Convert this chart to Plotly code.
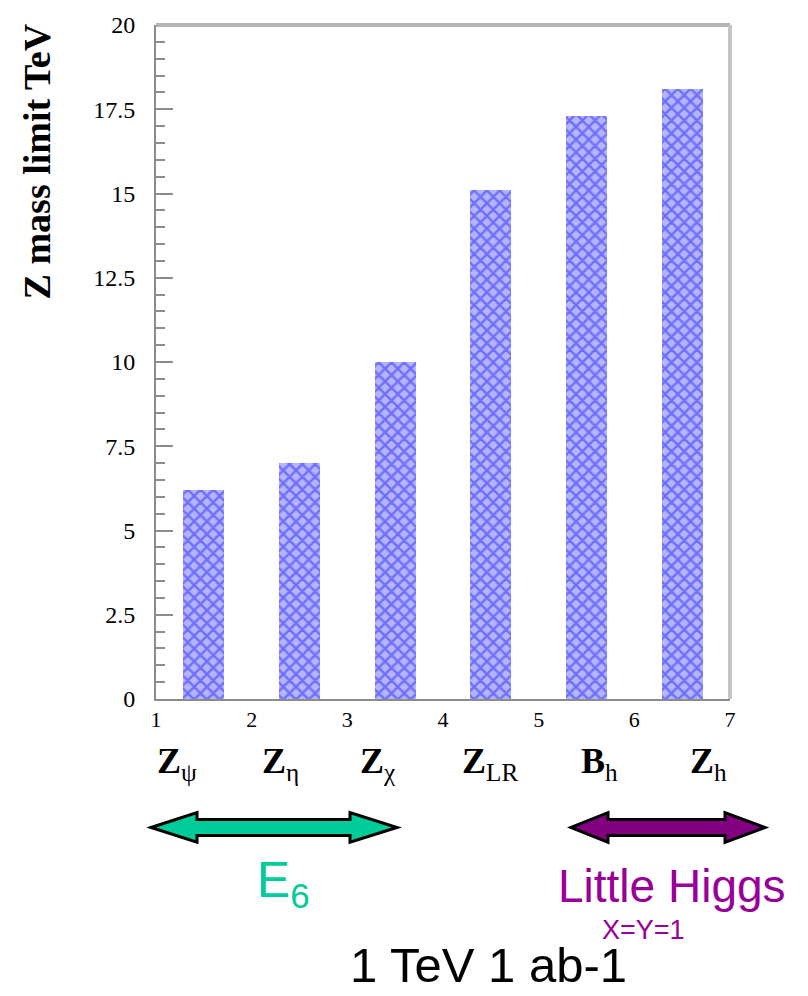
import plotly.graph_objects as go

# Z' discovery mass limits at a 1 TeV collider with 1 ab^-1
models = ["Z<sub>ψ</sub>", "Z<sub>η</sub>", "Z<sub>χ</sub>", "Z<sub>LR</sub>", "B<sub>h</sub>", "Z<sub>h</sub>"]
mass_limit_tev = [6.2, 7.0, 10.0, 15.1, 17.3, 18.1]
y_tick_values = [0, 2.5, 5, 7.5, 10, 12.5, 15, 17.5, 20]
y_tick_labels = ["0", "2.5", "5", "7.5", "10", "12.5", "15", "17.5", "20"]
x_tick_values = [1, 2, 3, 4, 5, 6, 7]

# bars sit half-way between the integer ticks
bar_x = [i + 1.5 for i in range(len(models))]

# page / plot-area geometry (pixels)
W, H = 808, 996
L, R, T, B = 156, 730, 17, 699


def px(x):
    return (x - L) / (R - L)


def py(y):
    return (B - y) / (B - T)


def double_arrow(x0, x1, xb0, xb1, yc, head, shaft):
    pts = [
        (x0, yc), (xb0, yc - head), (xb0, yc - shaft), (xb1, yc - shaft),
        (xb1, yc - head), (x1, yc), (xb1, yc + head), (xb1, yc + shaft),
        (xb0, yc + shaft), (xb0, yc + head),
    ]
    return "M " + " L ".join(f"{px(a):.5f},{py(b):.5f}" for a, b in pts) + " Z"


fig = go.Figure()
fig.add_trace(go.Bar(
    x=bar_x,
    y=mass_limit_tev,
    width=0.43,
    marker=dict(
        color="#aaaaff",
        line=dict(width=0),
        pattern=dict(shape="x", fgcolor="#2828ff", bgcolor="#b4b4ff", size=9, solidity=0.45),
    ),
    hoverinfo="skip",
))

serif = "Liberation Serif, Times New Roman, serif"
sans = "Liberation Sans, Arial, sans-serif"

fig.update_layout(
    width=W, height=H,
    margin=dict(l=L, r=W - R, t=T, b=H - B, pad=0),
    paper_bgcolor="white", plot_bgcolor="white",
    showlegend=False,
    bargap=0,
    xaxis=dict(
        range=[1, 7], tickmode="array", tickvals=x_tick_values,
        ticks="", showgrid=False, zeroline=False,
        showline=True, linecolor="#8c8c8c", linewidth=2,
        tickfont=dict(family=serif, size=22, color="black"),
        ticklabelstandoff=0,
    ),
    yaxis=dict(
        range=[0, 20], tickmode="array", tickvals=y_tick_values, ticktext=y_tick_labels,
        ticks="inside", ticklen=17, tickwidth=2, tickcolor="#8c8c8c",
        minor=dict(dtick=0.5, ticks="inside", ticklen=9, tickwidth=2, tickcolor="#8c8c8c", showgrid=False),
        showgrid=False, zeroline=False,
        showline=True, linecolor="#8c8c8c", linewidth=2,
        tickfont=dict(family=serif, size=24, color="black"),
        ticklabelstandoff=14,
    ),
)

# light frame on the top and right edges
fig.add_shape(type="line", xref="paper", yref="paper", x0=0, x1=1, y0=1, y1=1,
              line=dict(color="#b4b4b4", width=4))
fig.add_shape(type="line", xref="paper", yref="paper", x0=1, x1=1, y0=0, y1=1,
              line=dict(color="#c4c4c4", width=4))

# y-axis title, placed near the top of the axis
fig.add_annotation(text="<b>Z mass limit TeV</b>", textangle=-90,
                   xref="paper", yref="paper", x=px(37), y=py(155),
                   xanchor="center", yanchor="middle", showarrow=False,
                   font=dict(family=serif, size=38, color="black"))

# model names under the axis
label_x = [1.22, 2.30, 3.32, 4.49, 5.64, 6.77]
for name, lx in zip(models, label_x):
    z, sub = name.split("<sub>")
    fig.add_annotation(text=f"<b>{z}</b><sub>{sub}", xref="x", yref="paper",
                       x=lx, y=py(739), xanchor="center", yanchor="top",
                       showarrow=False, font=dict(family=serif, size=36, color="black"))

# model-family arrows
fig.add_shape(type="path", xref="paper", yref="paper",
              path=double_arrow(151, 397, 197, 350, 829, 15, 8),
              fillcolor="#00cc99", line=dict(color="black", width=3))
fig.add_shape(type="path", xref="paper", yref="paper",
              path=double_arrow(571, 765, 608, 725, 829, 15, 8),
              fillcolor="#800080", line=dict(color="black", width=3))

fig.add_annotation(text="E<sub>6</sub>", xref="paper", yref="paper",
                   x=px(283), y=py(886), xanchor="center", yanchor="middle",
                   showarrow=False, font=dict(family=sans, size=50, color="#00cc99"))
fig.add_annotation(text="Little Higgs", xref="paper", yref="paper",
                   x=px(672), y=py(888), xanchor="center", yanchor="middle",
                   showarrow=False, font=dict(family=sans, size=46, color="#990099"))
fig.add_annotation(text="X=Y=1", xref="paper", yref="paper",
                   x=px(643), y=py(933), xanchor="center", yanchor="middle",
                   showarrow=False, font=dict(family=sans, size=27, color="#990099"))
fig.add_annotation(text="1 TeV 1 ab-1", xref="paper", yref="paper",
                   x=px(488), y=py(968), xanchor="center", yanchor="middle",
                   showarrow=False, font=dict(family=sans, size=49, color="black"))

fig.write_html("out.html")
